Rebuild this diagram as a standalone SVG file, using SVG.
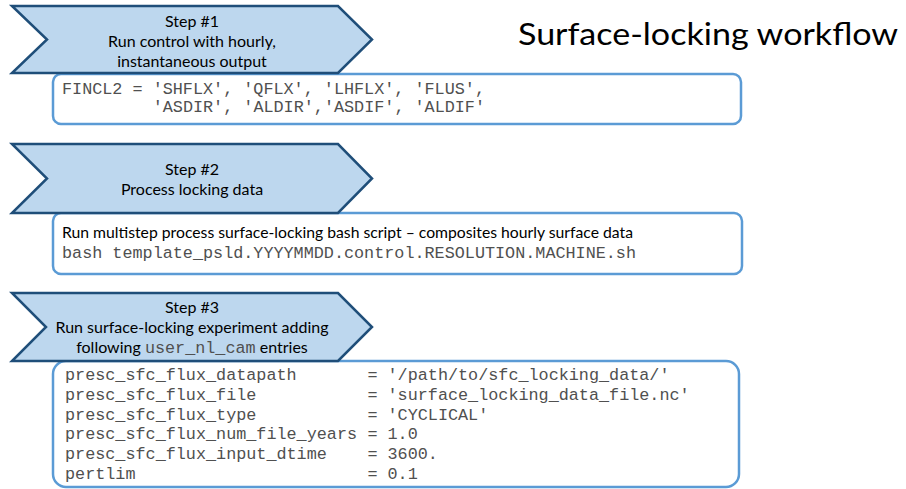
<svg xmlns="http://www.w3.org/2000/svg" width="906" height="489" viewBox="0 0 906 489">
<defs>
<style>
.chev{fill:#bdd7ee;stroke:#1f4e79;stroke-width:2.5;stroke-linejoin:miter}
.box{fill:#ffffff;stroke:#5b9bd5;stroke-width:2.5}
.sans{font-family:Lato,"Liberation Sans",sans-serif;font-size:16px;fill:#000000}
.mono{font-family:"Liberation Mono","Courier New",monospace;font-size:16.8px;fill:#505050}
.title{font-family:Lato,"Liberation Sans",sans-serif;font-size:31px;fill:#000000}
</style>
</defs>
<rect width="906" height="489" fill="#ffffff"/>
<g id="title"><text class="title" x="518" y="45" textLength="380" lengthAdjust="spacingAndGlyphs">Surface-locking workflow</text></g>
<g id="connectors"></g>

<g id="box1">
<rect class="box" x="53" y="74" width="688" height="50" rx="8"/>
<text class="mono" x="62" y="94">FINCL2 = 'SHFLX', 'QFLX', 'LHFLX', 'FLUS',</text>
<text class="mono" x="152.7" y="112">'ASDIR', 'ALDIR','ASDIF', 'ALDIF'</text>
</g>
<g id="step1">
<path class="chev" d="M12,6 L338,6 L372,39.5 L338,73 L12,73 L47,39.5 Z"/>
<text class="sans" x="192" y="27" text-anchor="middle">Step #1</text>
<text class="sans" x="192" y="47" text-anchor="middle">Run control with hourly,</text>
<text class="sans" x="192" y="67" text-anchor="middle">instantaneous output</text>
</g>

<g id="box2">
<rect class="box" x="53" y="213" width="689" height="61" rx="8"/>
<text class="sans" x="62" y="238" textLength="571" lengthAdjust="spacingAndGlyphs">Run multistep process surface-locking bash script – composites hourly surface data</text>
<text class="mono" x="62" y="258">bash template_psld.YYYYMMDD.control.RESOLUTION.MACHINE.sh</text>
</g>
<g id="step2">
<path class="chev" d="M12,144 L338,144 L372,178.5 L338,213 L12,213 L47,178.5 Z"/>
<text class="sans" x="192" y="175" text-anchor="middle">Step #2</text>
<text class="sans" x="192" y="195" text-anchor="middle">Process locking data</text>
</g>

<g id="box3">
<rect class="box" x="53" y="361" width="686" height="126" rx="13"/>
<text class="mono" x="65" y="380">presc_sfc_flux_datapath</text>
<text class="mono" x="367.4" y="380">= '/path/to/sfc_locking_data/'</text>
<text class="mono" x="65" y="399.8">presc_sfc_flux_file</text>
<text class="mono" x="367.4" y="399.8">= 'surface_locking_data_file.nc'</text>
<text class="mono" x="65" y="419.6">presc_sfc_flux_type</text>
<text class="mono" x="367.4" y="419.6">= 'CYCLICAL'</text>
<text class="mono" x="65" y="439.4">presc_sfc_flux_num_file_years</text>
<text class="mono" x="367.4" y="439.4">= 1.0</text>
<text class="mono" x="65" y="459.2">presc_sfc_flux_input_dtime</text>
<text class="mono" x="367.4" y="459.2">= 3600.</text>
<text class="mono" x="65" y="479">pertlim</text>
<text class="mono" x="367.4" y="479">= 0.1</text>
</g>
<g id="step3">
<path class="chev" d="M12,293 L338,293 L372,327 L338,361 L12,361 L46,327 Z"/>
<text class="sans" x="192" y="313" text-anchor="middle">Step #3</text>
<text class="sans" x="192" y="333" text-anchor="middle">Run surface-locking experiment adding</text>
<text class="sans" x="192" y="353" text-anchor="middle">following <tspan class="mono">user_nl_cam</tspan> entries</text>
</g>
</svg>
